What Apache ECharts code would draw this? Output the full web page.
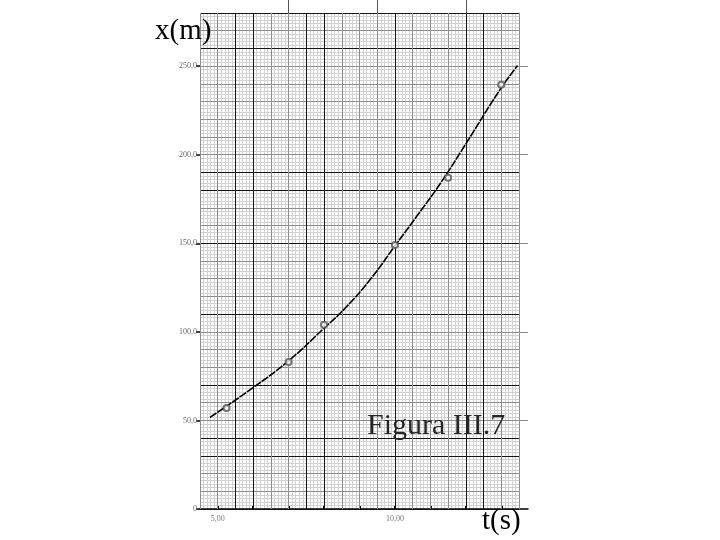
<!DOCTYPE html>
<html>
<head>
<meta charset="utf-8">
<title>Figura III.7</title>
<script src="https://cdn.jsdelivr.net/npm/echarts@6/dist/echarts.min.js"></script>
<style>
html, body { margin: 0; padding: 0; background: #fff; }
#chart { width: 720px; height: 540px; }
</style>
</head>
<body>
<div id="chart"></div>
<script>
// measured points: t (s), x (m)
var pointT = [5.25, 7, 8, 10, 11.5, 13];
var pointX = [57, 83, 104, 149, 187, 239.5];

// hand drawn curve
var curveT = [4.78, 5.91, 6.99, 7.98, 8.6, 9.3, 10.02, 10.61, 11.27, 11.98, 12.96, 13.46];
var curveX = [51.7, 67.3, 83.5, 101.7, 113.5, 129.5, 149.1, 165.1, 183.5, 205.5, 236.6, 250.3];

// axes
var xTicks = [5, 6, 7, 8, 9, 10, 11, 12, 13];
var xLabelValues = [5, 10];
var xTickLabels = ['5,00', '10,00'];
var yTicks = [0, 50, 100, 150, 200, 250];
var yTickLabels = ['0', '50,0', '100,0', '150,0', '200,0', '250,0'];

var chart = echarts.init(document.getElementById('chart'));

// millimetre paper: fine lines, 5mm lines (some printed darker)
var D = '#151515', M = '#8e8e8e';
var vColors = [M, M, D, D, M, M, D, D, M, M, M, D, M, M, M, D, D, M, M];
var hColors = [D, M, M, D, D, M, M, D, M, M, M, D, M, M, M, D, M, M, D, D, M, M, M, M, M, M, D, M, D];

function zip(a, b) {
    return a.map(function (v, i) { return [v, b[i]]; });
}

var noAxis = { axisLine: { show: false }, axisTick: { show: false }, axisLabel: { show: false } };

function paperX(interval, color, z) {
    return Object.assign({
        type: 'value', gridIndex: 0, min: 4.5, max: 13.5, interval: interval, z: z,
        splitLine: { show: true, lineStyle: { color: color, width: 1 } }
    }, noAxis);
}
function paperY(interval, color, z) {
    return Object.assign({
        type: 'value', gridIndex: 0, min: 0, max: 280, interval: interval, z: z, position: 'left',
        splitLine: { show: true, lineStyle: { color: color, width: 1 } }
    }, noAxis);
}

chart.setOption({
    animation: false,
    backgroundColor: '#fff',
    grid: [
        { left: 200, top: 13, width: 319, height: 496 },
        { left: 200, top: 13, width: 328, height: 496 },   // lines running past the sheet
        { left: 200, top: 0, width: 319, height: 13 }      // marks above the sheet
    ],
    xAxis: [
        paperX(0.1, '#d2d2d2', 0),
        paperX(0.5, vColors, 1),
        {
            type: 'value', gridIndex: 0, min: 4.5, max: 13.5, position: 'bottom',
            splitLine: { show: false },
            axisLine: { show: false },
            axisTick: { show: true, customValues: xTicks, inside: true, length: 3, lineStyle: { color: '#000', width: 2 } },
            axisLabel: {
                show: true, customValues: xLabelValues, margin: 6,
                color: '#777', fontSize: 8, fontFamily: 'Liberation Serif',
                formatter: function (v) { return xTickLabels[xLabelValues.indexOf(v)]; }
            }
        },
        {
            type: 'value', gridIndex: 1, min: 0, max: 1,
            axisLine: { show: true, lineStyle: { color: '#000', width: 1.5 } },
            axisTick: { show: false }, axisLabel: { show: false }, splitLine: { show: false }
        },
        Object.assign({
            type: 'value', gridIndex: 2, min: 4.5, max: 13.5, interval: 2.5,
            splitLine: { show: true, showMinLine: false, showMaxLine: false, lineStyle: { color: '#555', width: 1 } }
        }, noAxis)
    ],
    yAxis: [
        paperY(2, '#d2d2d2', 0),
        paperY(10, hColors, 1),
        {
            type: 'value', gridIndex: 0, min: 0, max: 280, position: 'left',
            splitLine: { show: false },
            axisLine: { show: false },
            axisTick: { show: true, customValues: yTicks, length: 4, lineStyle: { color: '#000', width: 1.5 } },
            axisLabel: {
                show: true, customValues: yTicks, margin: 3,
                color: '#666', fontSize: 8, fontFamily: 'Liberation Serif',
                formatter: function (v) { return yTickLabels[yTicks.indexOf(v)]; }
            }
        },
        Object.assign({
            type: 'value', gridIndex: 1, min: 0, max: 280, interval: 50, position: 'left',
            splitLine: { show: true, showMinLine: false, showMaxLine: false, lineStyle: { color: '#8a8a8a', width: 1 } }
        }, noAxis),
        Object.assign({ type: 'value', gridIndex: 2, min: 0, max: 1, splitLine: { show: false } }, noAxis)
    ],
    series: [
        {
            type: 'line', xAxisIndex: 0, yAxisIndex: 0, z: 5,
            data: zip(curveT, curveX),
            smooth: 0.5, showSymbol: false,
            lineStyle: { color: '#000', width: 1.6, type: [8, 1] }
        },
        {
            type: 'scatter', xAxisIndex: 0, yAxisIndex: 0, z: 6,
            data: zip(pointT, pointX),
            symbol: 'emptyCircle', symbolSize: 6,
            itemStyle: { color: '#555', borderWidth: 1 }
        }
    ],
    graphic: [
        { type: 'text', left: 155, top: 17, z: 10, style: { text: 'x(m)', font: '29px "Liberation Serif"', fill: '#000' } },
        { type: 'text', left: 482, top: 507, z: 10, style: { text: 't(s)', font: '29px "Liberation Serif"', fill: '#000' } },
        { type: 'text', left: 367, top: 411, z: 10, style: { text: 'Figura III.7', font: '30px "Liberation Serif"', fill: '#262626' } }
    ]
});
</script>
</body>
</html>
